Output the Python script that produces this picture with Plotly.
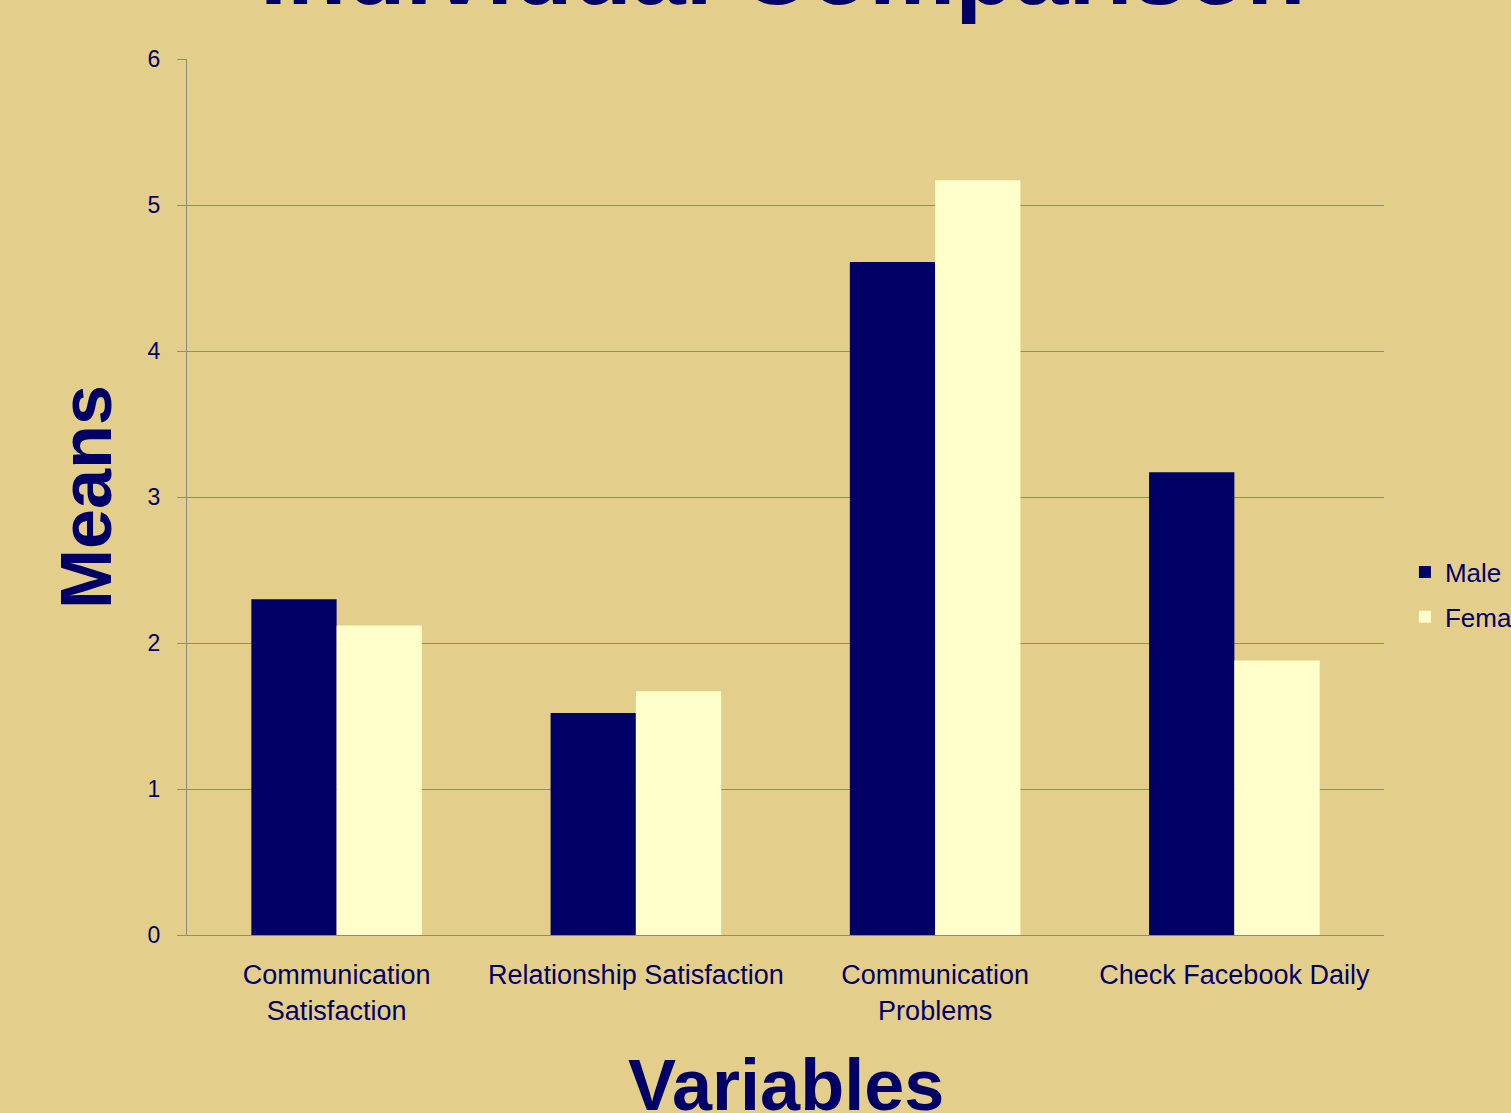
import plotly.graph_objects as go

categories = ["Communication<br>Satisfaction", "Relationship Satisfaction",
              "Communication<br>Problems", "Check Facebook Daily"]
male = [2.30, 1.52, 4.61, 3.17]
female = [2.12, 1.67, 5.17, 1.88]
series_names = ["Male", "Female"]
y_ticks = [0, 1, 2, 3, 4, 5, 6]

BG = "#E3CF8B"
NAVY = "#000066"
CREAM = "#FFFFCC"
GRID = "#8F8B7A"
FONT = "Liberation Sans, Arial, sans-serif"

fig = go.Figure()
fig.add_trace(go.Bar(x=categories, y=male, name=series_names[0], legendgroup="m",
                     marker=dict(color=NAVY, line=dict(width=0))))
fig.add_trace(go.Bar(x=categories, y=female, name=series_names[1], legendgroup="f",
                     marker=dict(color=CREAM, line=dict(width=0))))

fig.update_layout(
    width=1511, height=1113,
    paper_bgcolor=BG, plot_bgcolor=BG,
    margin=dict(l=187, r=127, t=59, b=178, autoexpand=False),
    barmode="group", bargap=0.43, bargroupgap=0,
    font=dict(family=FONT, color=NAVY, size=26),
    showlegend=True,
    legend=dict(x=1.0175, y=0.3885, xanchor="left", yanchor="middle",
                bgcolor="rgba(0,0,0,0)", font=dict(size=26, color=NAVY),
                traceorder="grouped", tracegroupgap=8, itemsizing="constant"),
    xaxis=dict(showgrid=False, showline=True, linecolor=GRID, linewidth=1,
               ticks="", tickfont=dict(size=27, color=NAVY), ticklabelstandoff=16),
    yaxis=dict(range=[0, 6], tickvals=y_ticks, showgrid=True, gridcolor=GRID,
               gridwidth=1, showline=True, linecolor=GRID, linewidth=1,
               ticks="outside", ticklen=9, tickcolor=GRID,
               tickfont=dict(size=23, color=NAVY), zeroline=False,
               ticklabelstandoff=12),
    annotations=[
        dict(text="<b>Individual Comparison</b>", xref="paper", yref="paper",
             x=0.4975, y=1.0, yshift=59 + 30, xanchor="center", yanchor="middle",
             showarrow=False, font=dict(size=97, color=NAVY, family=FONT)),
        dict(text="<b>Means</b>", xref="paper", yref="paper",
             x=0, xshift=-101, y=0.5, xanchor="center", yanchor="middle",
             textangle=-90, showarrow=False,
             font=dict(size=72, color=NAVY, family=FONT)),
        dict(text="<b>Variables</b>", xref="paper", yref="paper",
             x=0.5, y=0, yshift=-108, xanchor="center", yanchor="top",
             showarrow=False, font=dict(size=72, color=NAVY, family=FONT)),
    ],
)

fig.write_html("out.html", config={"displayModeBar": False},
               post_script="document.body.style.margin='0px';")
